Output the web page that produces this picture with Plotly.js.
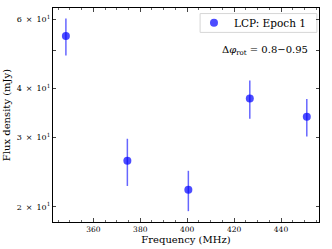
<!DOCTYPE html>
<html>
<head>
<meta charset="utf-8">
<script src="https://cdn.plot.ly/plotly-3.0.1.min.js"></script>
<style>html,body{margin:0;padding:0;background:#fff;}#plot{width:332px;height:249px;}</style>
</head>
<body>
<div id="plot"></div>
<script>
const freq = [348.3, 374.5, 400.5, 426.7, 451.0];
const flux = [54.4, 26.2, 22.1, 37.7, 33.9];
const fluxErr = [5.9, 3.6, 2.6, 4.2, 3.7];
const yTickVals = [20, 30, 40, 50, 60];
const yTickText = ['2\u2002×\u200210<sup>1</sup>', '3\u2002×\u200210<sup>1</sup>', '4\u2002×\u200210<sup>1</sup>', '', '6\u2002×\u200210<sup>1</sup>'];
const xTickVals = [360, 380, 400, 420, 440];
const seriesName = 'LCP: Epoch 1';

const font = 'DejaVu Serif, serif';
const trace = {
  x: freq, y: flux, type: 'scatter', mode: 'markers', name: seriesName,
  marker: {color: 'rgba(0,0,255,0.7)', size: 8},
  error_y: {type: 'data', array: fluxErr, visible: true, color: 'rgba(0,0,255,0.6)', thickness: 1.5, width: 0},
  showlegend: true
};
const layout = {
  width: 332, height: 249,
  margin: {l: 53, r: 13, t: 8, b: 27},
  paper_bgcolor: '#fff', plot_bgcolor: '#fff',
  font: {family: font, color: '#000', size: 7},
  showlegend: true,
  legend: {x: 0.530, xanchor: 'left', y: 0.931, yanchor: 'middle', bgcolor: 'rgba(0,0,0,0)',
    borderwidth: 0, font: {family: font, size: 10.5}},
  shapes: [{type: 'rect', xref: 'paper', yref: 'paper', x0: 0.553, x1: 0.992, y0: 0.886, y1: 0.974,
    line: {color: '#d6d6d6', width: 1}, fillcolor: 'rgba(255,255,255,0.8)', layer: 'below'}],
  xaxis: {range: [342.8, 456.2], tickvals: xTickVals, ticks: 'inside', ticklen: 4, tickwidth: 1,
    showline: true, linecolor: '#000', linewidth: 1.2, mirror: 'ticks', showgrid: false, zeroline: false,
    tickfont: {family: font, size: 7.5},
    minor: {dtick: 5, tick0: 0, ticks: 'inside', ticklen: 2, tickwidth: 0.8, showgrid: false},
    title: {text: 'Frequency (MHz)', font: {family: font, size: 10}, standoff: 2}},
  yaxis: {type: 'log', range: [Math.log10(18.3), Math.log10(64.1)], tickvals: yTickVals, ticktext: yTickText,
    ticks: 'inside', ticklen: 3, tickwidth: 1, showline: true, linecolor: '#000', linewidth: 1.2, mirror: 'ticks',
    showgrid: false, zeroline: false, tickfont: {family: font, size: 8},
    title: {text: 'Flux density (mJy)', font: {family: font, size: 10}, standoff: 4}},
  annotations: [{xref: 'paper', yref: 'paper', x: 0.965, y: 0.80, xanchor: 'right', yanchor: 'middle', showarrow: false,
    text: 'Δ<i>φ</i><sub>rot</sub> = 0.8−0.95', font: {family: font, size: 10}}]
};
Plotly.newPlot('plot', [trace], layout, {displayModeBar: false, staticPlot: true});
</script>
</body>
</html>
